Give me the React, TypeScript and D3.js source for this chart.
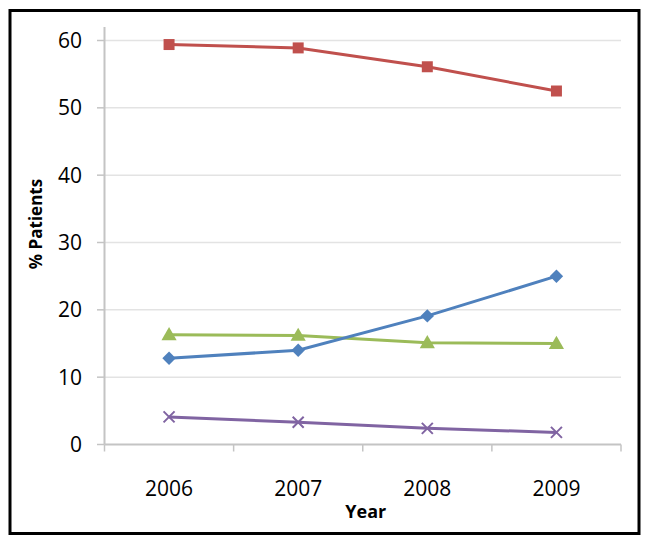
import React from "react";
import * as d3 from "d3";

const years = ["2006", "2007", "2008", "2009"];
const yTicks = [0, 10, 20, 30, 40, 50, 60];
const redSeries = [59.4, 58.9, 56.1, 52.5];
const blueSeries = [12.8, 14.0, 19.1, 25.0];
const greenSeries = [16.3, 16.2, 15.1, 15.0];
const purpleSeries = [4.1, 3.3, 2.4, 1.8];
const yLabel = "% Patients";
const xLabel = "Year";

const W = 651;
const H = 545;
const FONT = "'Open Sans', 'DejaVu Sans', sans-serif";

export default function App() {
  const x = d3.scaleBand<string>().domain(years).range([104.5, 621]);
  const y = d3.scaleLinear().domain([0, 60]).range([444.5, 40.5]);
  const cx = (yr: string) => (x(yr) as number) + x.bandwidth() / 2;
  const line = d3
    .line<number>()
    .x((_, i) => cx(years[i]))
    .y((d) => y(d));

  const series = [
    { values: redSeries, color: "#C0504D", marker: "square" },
    { values: greenSeries, color: "#9BBB59", marker: "triangle" },
    { values: blueSeries, color: "#4F81BD", marker: "diamond" },
    { values: purpleSeries, color: "#8064A2", marker: "x" },
  ];

  const sq = d3.symbol(d3.symbolSquare, 121)();
  const di = d3.symbol(d3.symbolSquare, 90)();
  const tr = d3.symbol(d3.symbolTriangle, 100)();

  const marker = (m: string, color: string, px: number, py: number, key: number) => {
    if (m === "x") {
      const s = 5.5;
      return (
        <path
          key={key}
          d={`M${px - s},${py - s}L${px + s},${py + s}M${px - s},${py + s}L${px + s},${py - s}`}
          stroke={color}
          strokeWidth={2}
          fill="none"
        />
      );
    }
    if (m === "diamond") {
      return <path key={key} d={di as string} transform={`translate(${px},${py}) rotate(45)`} fill={color} />;
    }
    const d = m === "square" ? sq : tr;
    return <path key={key} d={d as string} transform={`translate(${px},${py + (m === "triangle" ? 1 : 0)})`} fill={color} />;
  };

  const x0 = 104.5;
  const x1 = 621;
  const y0 = y(0);

  return (
    <div style={{ position: "absolute", left: 0, top: 0 }}>
      <svg width={W} height={H} style={{ display: "block", background: "#fff" }}>
        <rect x={10} y={10.5} width={629} height={523} fill="#fff" stroke="#000" strokeWidth={3} />
        {yTicks.filter((t) => t > 0).map((t) => (
          <line key={"g" + t} x1={x0} x2={x1} y1={y(t)} y2={y(t)} stroke="#e3e3e3" strokeWidth={1.5} />
        ))}
        {/* y axis */}
        <line x1={x0} x2={x0} y1={27} y2={y0} stroke="#c4c4c4" strokeWidth={2} />
        {yTicks.map((t) => (
          <g key={"yt" + t}>
            <line x1={97} x2={x0} y1={y(t)} y2={y(t)} stroke="#c4c4c4" strokeWidth={1.5} />
            <text x={82} y={y(t)} dy="0.36em" textAnchor="end" fontFamily={FONT} fontSize={21} fill="#000">
              {t}
            </text>
          </g>
        ))}
        {/* x axis */}
        <line x1={x0} x2={x1} y1={y0} y2={y0} stroke="#c4c4c4" strokeWidth={2} />
        {[...years.map((yr) => x(yr) as number), x1].map((px, i) => (
          <line key={"xt" + i} x1={px} x2={px} y1={y0} y2={y0 + 7} stroke="#c4c4c4" strokeWidth={1.5} />
        ))}
        {years.map((yr) => (
          <text key={"xl" + yr} x={cx(yr)} y={496} textAnchor="middle" fontFamily={FONT} fontSize={21} fill="#000">
            {yr}
          </text>
        ))}
        <text x={(x0 + x1) / 2 + 3} y={518} textAnchor="middle" fontFamily={FONT} fontSize={18} fontWeight="bold" fill="#000">
          {xLabel}
        </text>
        <text
          transform={`translate(42,224) rotate(-90)`}
          textAnchor="middle"
          fontFamily={FONT}
          fontSize={17}
          fontWeight="bold"
          fill="#000"
        >
          {yLabel}
        </text>
        {series.map((s, si) => (
          <g key={"s" + si}>
            <path d={line(s.values) as string} fill="none" stroke={s.color} strokeWidth={3} />
            {s.values.map((v, i) => marker(s.marker, s.color, cx(years[i]), y(v), i))}
          </g>
        ))}
      </svg>
    </div>
  );
}
